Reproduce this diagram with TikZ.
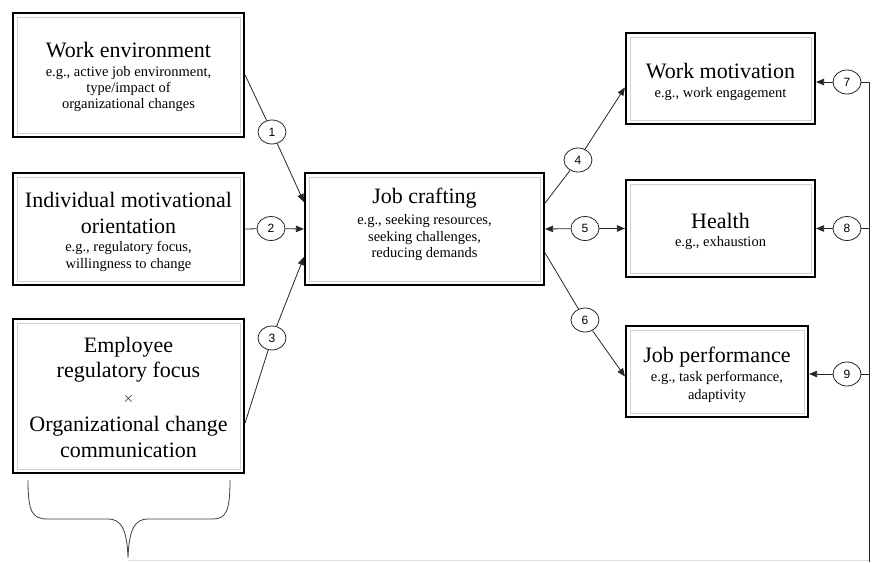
\documentclass[tikz,border=0pt]{standalone}
\usepackage{fontspec}
\setmainfont{Liberation Serif}
\newfontfamily\numfont{Liberation Sans}
\usetikzlibrary{arrows.meta,shapes.geometric}

\tikzset{
  box/.style={draw=black, line width=2.2pt, fill=white, inner sep=0pt},
  innerframe/.style={draw=black!18, line width=0.6pt},
  conn/.style={draw=black!85, line width=0.8pt},
  tip/.style={-{Triangle[length=8pt,width=6.5pt]}},
  numcirc/.style={ellipse, draw=black!85, line width=0.8pt, fill=white,
    minimum width=28pt, minimum height=24pt, inner sep=0pt,
    font=\numfont\fontsize{12}{13}\selectfont},
  ttl/.style={anchor=base, inner sep=0pt, font=\fontsize{22}{26}\selectfont},
  sub/.style={anchor=base, inner sep=0pt, font=\fontsize{14.5}{17}\selectfont},
}

\begin{document}
\begin{tikzpicture}[x=1pt, y=-1pt]
\useasboundingbox[fill=white] (0,0) rectangle (872,562);

% boxes
\node[box, minimum width=231pt, minimum height=124pt] (we) at (128.5,75) {};
\node[box, minimum width=231pt, minimum height=112pt] (imo) at (128.5,229) {};
\node[box, minimum width=231pt, minimum height=154pt] (erf) at (128.5,396) {};
\node[box, minimum width=239pt, minimum height=112pt] (jc) at (424.5,229) {};
\node[box, minimum width=189pt, minimum height=91pt] (wm) at (720.5,78.5) {};
\node[box, minimum width=189pt, minimum height=97pt] (health) at (720.5,228.5) {};
\node[box, minimum width=182pt, minimum height=91pt] (jp) at (717,371.5) {};

% faint inner frames
\foreach \n in {we,imo,erf,jc,wm,health,jp}
  \draw[innerframe] ([shift={(5pt,-5pt)}]\n.north west) rectangle ([shift={(-5pt,5pt)}]\n.south east);

% box texts
\node[ttl] (we-1) at (128.5,57) {Work environment};
\node[sub] (we-2) at (128.5,76) {e.g., active job environment,};
\node[sub] (we-3) at (128.5,92) {type/impact of};
\node[sub] (we-4) at (128.5,108) {organizational changes};

\node[ttl] (imo-1) at (128.5,207) {Individual motivational};
\node[ttl] (imo-2) at (128.5,233) {orientation};
\node[sub] (imo-3) at (128.5,251) {e.g., regulatory focus,};
\node[sub] (imo-4) at (128.5,268) {willingness to change};

\node[ttl] (erf-1) at (128.5,352) {Employee};
\node[ttl] (erf-2) at (128.5,377) {regulatory focus};
\node[sub, anchor=center] (erf-3) at (128.5,399) {$\times$};
\node[ttl] (erf-4) at (128.5,431) {Organizational change};
\node[ttl] (erf-5) at (128.5,457) {communication};

\node[ttl] (jc-1) at (424.5,203) {Job crafting};
\node[sub] (jc-2) at (424.5,224) {e.g., seeking resources,};
\node[sub] (jc-3) at (424.5,241) {seeking challenges,};
\node[sub] (jc-4) at (424.5,257) {reducing demands};

\node[ttl] (wm-1) at (720.5,78) {Work motivation};
\node[sub] (wm-2) at (720.5,97) {e.g., work engagement};

\node[ttl] (health-1) at (720.5,228) {Health};
\node[sub] (health-2) at (720.5,246) {e.g., exhaustion};

\node[ttl] (jp-1) at (717,362) {Job performance};
\node[sub] (jp-2) at (717,381) {e.g., task performance,};
\node[sub] (jp-3) at (717,399) {adaptivity};

% numbered path markers
\node[numcirc] (c1) at (272,132) {1};
\node[numcirc] (c2) at (271,228.5) {2};
\node[numcirc] (c3) at (272,338) {3};
\node[numcirc] (c4) at (578,160) {4};
\node[numcirc] (c5) at (585,228.5) {5};
\node[numcirc] (c6) at (585,320) {6};
\node[numcirc] (c7) at (847,82) {7};
\node[numcirc] (c8) at (847,228.5) {8};
\node[numcirc] (c9) at (847,374) {9};

% feedback rail on the right
\coordinate (railtop) at (869,82);
\coordinate (railbot) at (869,562);

% antecedents -> job crafting
\draw[conn] (we.east) -- (c1);
\draw[conn, tip] (c1) -- ([yshift=27pt]jc.west);
\draw[conn] (imo.east) -- (c2);
\draw[conn, tip] (c2) -- (jc.west);
\draw[conn] ([yshift=-27pt]erf.east) -- (c3);
\draw[conn, tip] (c3) -- ([yshift=-28pt]jc.west);

% job crafting -> outcomes
\draw[conn] ([yshift=26pt]jc.east) -- (c4);
\draw[conn, tip] (c4) -- ([yshift=-9pt]wm.west);
\draw[conn, tip] (c5) -- (jc.east);
\draw[conn, tip] (c5) -- (health.west);
\draw[conn] ([yshift=-24pt]jc.east) -- (c6);
\draw[conn, tip] (c6) -- ([yshift=-5pt]jp.west);

% feedback into outcomes
\draw[conn] (c7) -- (railtop) -- (railbot);
\draw[conn, tip] (c7) -- (c7 -| wm.east);
\draw[conn] (c8) -- (c8 -| railtop);
\draw[conn, tip] (c8) -- (c8 -| health.east);
\draw[conn] (c9) -- (c9 -| railtop);
\draw[conn, tip] (c9) -- (c9 -| jp.east);

% brace under the left boxes
\draw[black!75, line width=0.8pt]
  (28,480) .. controls (28,512) and (32,519) .. (48,519) -- (108,519)
  .. controls (120,519) and (127,527) .. (128,558)
  .. controls (129,527) and (136,519) .. (148,519) -- (212,519)
  .. controls (226,519) and (230,512) .. (230,480);
\draw[black!12, line width=0.8pt] (128,560) -- (869,560);
\end{tikzpicture}
\end{document}
